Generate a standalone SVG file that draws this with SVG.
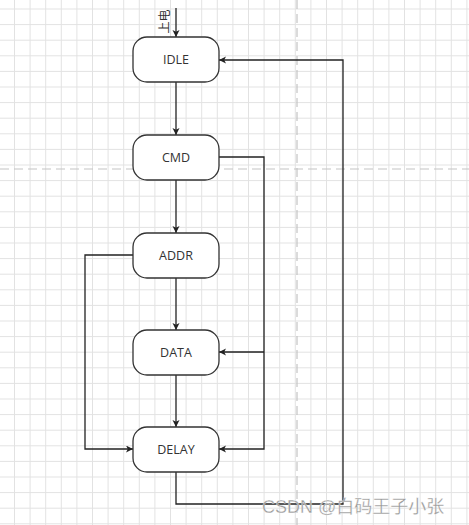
<svg xmlns="http://www.w3.org/2000/svg" width="469" height="525" viewBox="0 0 469 525">
  <style>
    .node rect { fill: #ffffff; stroke: #333333; stroke-width: 1.3; }
    .node text { font-family: "Open Sans", "Liberation Sans", sans-serif; font-size: 12.5px; fill: #333333; text-anchor: middle; }
    .conn path { fill: none; stroke: #222222; stroke-width: 1.3; }
    .arrow { marker-end: url(#arr); }
    .pb { stroke: #c4c4c4; stroke-width: 1.2; stroke-dasharray: 9 5; }
  </style>
  <defs>
    <pattern id="grid" patternUnits="userSpaceOnUse" x="14" y="8.5" width="15.6" height="15.6">
      <path d="M0.5,0 V15.6 M0,0.5 H15.6" stroke="#e2e2e2" stroke-width="1" fill="none"/>
    </pattern>
    <marker id="arr" markerUnits="userSpaceOnUse" markerWidth="8" markerHeight="8" refX="7" refY="3.5" orient="auto">
      <path d="M0,0 L7,3.5 L0,7 L1.8,3.5 z" fill="#222222"/>
    </marker>
  </defs>
  <rect width="469" height="525" fill="#ffffff"/>
  <rect width="469" height="525" fill="url(#grid)"/>
  <line class="pb" x1="297" y1="0" x2="297" y2="525"/>
  <line class="pb" x1="0" y1="169" x2="469" y2="169"/>

  <g id="connectors" class="conn">
    <path class="arrow" d="M176,8 L176,37"/>
    <path class="arrow" d="M176,82 L176,135"/>
    <path class="arrow" d="M176,180 L176,233"/>
    <path class="arrow" d="M176,278 L176,330"/>
    <path class="arrow" d="M176,375 L176,427"/>
    <path class="arrow" d="M176,472 L176,504 L343,504 L343,60 L219,60"/>
    <path class="arrow" d="M219,157 L264,157 L264,449 L219,449"/>
    <path class="arrow" d="M264,352 L219,352"/>
    <path class="arrow" d="M133,255 L85,255 L85,449 L133,449"/>
  </g>
  <text x="163" y="21.5" transform="rotate(-90 163 21.5)" font-family="'Noto Sans CJK SC', sans-serif" font-size="12" fill="#333333" text-anchor="middle" dominant-baseline="central">上电</text>

  <g id="idle" class="node">
    <rect x="133" y="37" width="86" height="45" rx="14"/>
    <text x="176" y="64">IDLE</text>
  </g>
  <g id="cmd" class="node">
    <rect x="133" y="135" width="86" height="45" rx="14"/>
    <text x="176" y="162">CMD</text>
  </g>
  <g id="addr" class="node">
    <rect x="133" y="233" width="86" height="45" rx="14"/>
    <text x="176" y="260">ADDR</text>
  </g>
  <g id="data" class="node">
    <rect x="133" y="330" width="86" height="45" rx="14"/>
    <text x="176" y="357">DATA</text>
  </g>
  <g id="delay" class="node">
    <rect x="133" y="427" width="86" height="45" rx="14"/>
    <text x="176" y="454">DELAY</text>
  </g>

  <text x="262" y="513" font-family="'Liberation Sans', 'Noto Sans CJK SC', sans-serif" font-size="18" fill="#959595" stroke="#ffffff" stroke-width="0.3">CSDN @白码王子小张</text>
</svg>
